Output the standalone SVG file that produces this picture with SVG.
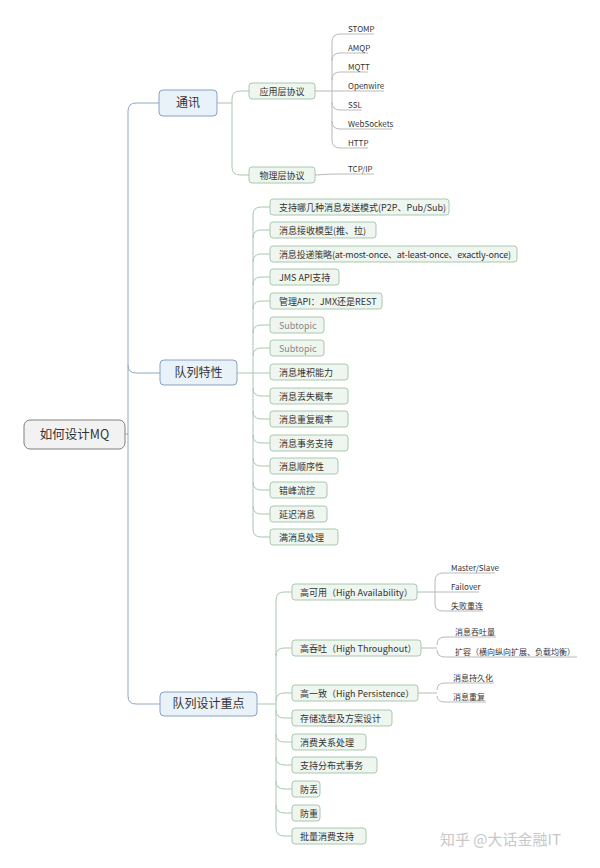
<svg xmlns="http://www.w3.org/2000/svg" width="600" height="868" viewBox="0 0 600 868">
<style>
text{font-family:"Noto Sans CJK SC","Noto Sans",sans-serif;fill:#333}
.c{fill:none;stroke-width:1}
.t{stroke:#8fa8c4}.g{stroke:#a9c7b0}.n{stroke:#b8b8b8}
.root{fill:#f2f2f2;stroke:#808080}
.l1{fill:#e9f1f9;stroke:#86a2c0}
.l2{fill:#eef6ef;stroke:#a8c8ae}
.f1{font-size:12px}.f2{font-size:9px}.f3{font-size:8px}
.u{stroke:#aaa;stroke-width:0.8}
</style>
<rect width="600" height="868" fill="#fff"/>
<g id="connectors">
<path class="c t" d="M125,434 H128 M128,111 V696 M128,111 Q128,103 136,103 H159 M128,365 Q128,373 136,373 H160 M128,696 Q128,704 136,704 H160"/>
<path class="c g" d="M217,103 H232 M232,99 V167 M232,99 Q232,91 240,91 H249 M232,167 Q232,175 240,175 H249"/>
<path class="c n" d="M315,91 H332 M332,42 V140 M332,42 Q332,34 340,34 M332,61 Q332,53 340,53 M332,80 Q332,72 340,72 M332,91 H340 M332,102 Q332,110 340,110 M332,121 Q332,129 340,129 M332,140 Q332,148 340,148 M315,175 Q330,174 340,174"/>
<path class="c g" d="M237,373 H253 M253,215 V529 M253,215 Q253,207 261,207 H270 M253,238 Q253,230 261,230 H270 M253,262 Q253,254 261,254 H270 M253,285 Q253,277 261,277 H270 M253,309 Q253,301 261,301 H270 M253,333 Q253,325 261,325 H270 M253,356 Q253,348 261,348 H270 M253,373 H270 M253,388 Q253,396 261,396 H270 M253,411 Q253,419 261,419 H270 M253,435 Q253,443 261,443 H270 M253,458 Q253,466 261,466 H270 M253,482 Q253,490 261,490 H270 M253,506 Q253,514 261,514 H270 M253,529 Q253,537 261,537 H270"/>
<path class="c g" d="M257,704 H276 M276,600 V828 M276,600 Q276,592 284,592 H292 M276,656 Q276,648 284,648 H292 M276,701 Q276,693 284,693 H292 M276,710 Q276,718 284,718 H292 M276,734 Q276,742 284,742 H292 M276,757 Q276,765 284,765 H292 M276,781 Q276,789 284,789 H292 M276,805 Q276,813 284,813 H292 M276,828 Q276,836 284,836 H292"/>
<path class="c n" d="M417,592 H435 M435,581 V604 M435,581 Q435,573 443,573 M435,592 H443 M435,604 Q435,611 443,611 M421,648 H437 M437,645 Q437,637 445,637 M437,650 Q437,657 445,657 M418,693 H437 M437,690 Q437,683 445,683 M437,696 Q437,702 445,702"/>
<path class="u" d="M340,34 H374 M340,53 H368 M340,72 H368 M340,91 H384 M340,110 H362 M340,129 H392 M340,148 H368 M340,174 H374 M443,573 H495 M443,592 H479 M443,611 H483 M445,637 H496 M445,657 H577 M445,683 H494 M445,702 H486"/>
</g>
<g id="root"><rect class="root" x="24" y="420" width="101" height="29" rx="6"/><text x="74.5" y="439" font-size="12.5" text-anchor="middle">如何设计MQ</text></g>
<g id="n-tongxun"><rect class="l1" x="159" y="90" width="58" height="26" rx="4"/><text class="f1" x="188" y="107" text-anchor="middle">通讯</text></g>
<g id="n-tezheng"><rect class="l1" x="160" y="360" width="77" height="25" rx="4"/><text class="f1" x="198.5" y="377" text-anchor="middle">队列特性</text></g>
<g id="n-zhongdian"><rect class="l1" x="160" y="692" width="97" height="24" rx="4"/><text class="f1" x="208.5" y="708" text-anchor="middle">队列设计重点</text></g>
<g id="n-app"><rect class="l2" x="249" y="83" width="66" height="16" rx="3"/><text class="f2" x="282" y="94.5" text-anchor="middle">应用层协议</text></g>
<g id="n-phy"><rect class="l2" x="249" y="167" width="66" height="16" rx="3"/><text class="f2" x="282" y="178.5" text-anchor="middle">物理层协议</text></g>
<g id="leaves-proto">
<text class="f3" x="348" y="32">STOMP</text><text class="f3" x="348" y="51">AMQP</text><text class="f3" x="348" y="70">MQTT</text><text class="f3" x="348" y="89">Openwire</text><text class="f3" x="348" y="108">SSL</text><text class="f3" x="348" y="127">WebSockets</text><text class="f3" x="348" y="146">HTTP</text><text class="f3" x="348" y="172">TCP/IP</text>
</g>
<g id="features">
<rect class="l2" x="270" y="199" width="179" height="16" rx="3"/><text class="f2" x="279" y="210.5">支持哪几种消息发送模式(P2P、Pub/Sub)</text>
<rect class="l2" x="270" y="222" width="106" height="16" rx="3"/><text class="f2" x="279" y="233.5">消息接收模型(推、拉)</text>
<rect class="l2" x="270" y="246" width="247" height="16" rx="3"/><text class="f2" x="279" y="257.5" textLength="232">消息投递策略(at-most-once、at-least-once、exactly-once)</text>
<rect class="l2" x="270" y="269" width="69" height="16" rx="3"/><text class="f2" x="279" y="280.5">JMS API支持</text>
<rect class="l2" x="270" y="293" width="112" height="16" rx="3"/><text class="f2" x="279" y="304.5">管理API：JMX还是REST</text>
<rect class="l2" x="270" y="317" width="54" height="16" rx="3"/><text class="f2" x="279" y="328.5" style="fill:#888">Subtopic</text>
<rect class="l2" x="270" y="340" width="54" height="16" rx="3"/><text class="f2" x="279" y="351.5" style="fill:#888">Subtopic</text>
<rect class="l2" x="270" y="364" width="78" height="16" rx="3"/><text class="f2" x="279" y="375.5">消息堆积能力</text>
<rect class="l2" x="270" y="388" width="78" height="16" rx="3"/><text class="f2" x="279" y="399.5">消息丢失概率</text>
<rect class="l2" x="270" y="411" width="78" height="16" rx="3"/><text class="f2" x="279" y="422.5">消息重复概率</text>
<rect class="l2" x="270" y="435" width="78" height="16" rx="3"/><text class="f2" x="279" y="446.5">消息事务支持</text>
<rect class="l2" x="270" y="458" width="68" height="16" rx="3"/><text class="f2" x="279" y="469.5">消息顺序性</text>
<rect class="l2" x="270" y="482" width="57" height="16" rx="3"/><text class="f2" x="279" y="493.5">错峰流控</text>
<rect class="l2" x="270" y="506" width="57" height="16" rx="3"/><text class="f2" x="279" y="517.5">延迟消息</text>
<rect class="l2" x="270" y="529" width="68" height="16" rx="3"/><text class="f2" x="279" y="540.5">满消息处理</text>
</g>
<g id="design">
<rect class="l2" x="292" y="584" width="125" height="16" rx="3"/><text class="f2" x="300" y="595.5">高可用（High Availability）</text>
<rect class="l2" x="292" y="640" width="129" height="16" rx="3"/><text class="f2" x="300" y="651.5">高吞吐（High Throughout）</text>
<rect class="l2" x="292" y="685" width="126" height="16" rx="3"/><text class="f2" x="300" y="696.5">高一致（High Persistence）</text>
<rect class="l2" x="292" y="710" width="100" height="16" rx="3"/><text class="f2" x="300" y="721.5">存储选型及方案设计</text>
<rect class="l2" x="292" y="734" width="74" height="16" rx="3"/><text class="f2" x="300" y="745.5">消费关系处理</text>
<rect class="l2" x="292" y="757" width="85" height="16" rx="3"/><text class="f2" x="300" y="768.5">支持分布式事务</text>
<rect class="l2" x="292" y="781" width="28" height="16" rx="3"/><text class="f2" x="300" y="792.5">防丢</text>
<rect class="l2" x="292" y="805" width="28" height="16" rx="3"/><text class="f2" x="300" y="816.5">防重</text>
<rect class="l2" x="292" y="828" width="74" height="16" rx="3"/><text class="f2" x="300" y="839.5">批量消费支持</text>
</g>
<g id="design-leaves">
<text class="f3" x="451" y="571">Master/Slave</text><text class="f3" x="451" y="590">Failover</text><text class="f3" x="451" y="609">失败重连</text>
<text class="f3" x="455" y="635">消息吞吐量</text><text class="f3" x="455" y="655">扩容（横向纵向扩展、负载均衡）</text>
<text class="f3" x="453" y="681">消息持久化</text><text class="f3" x="453" y="700">消息重复</text>
</g>
<text x="440" y="845" font-size="15" style="fill:#c8c8c8">知乎 @大话金融IT</text>
</svg>
